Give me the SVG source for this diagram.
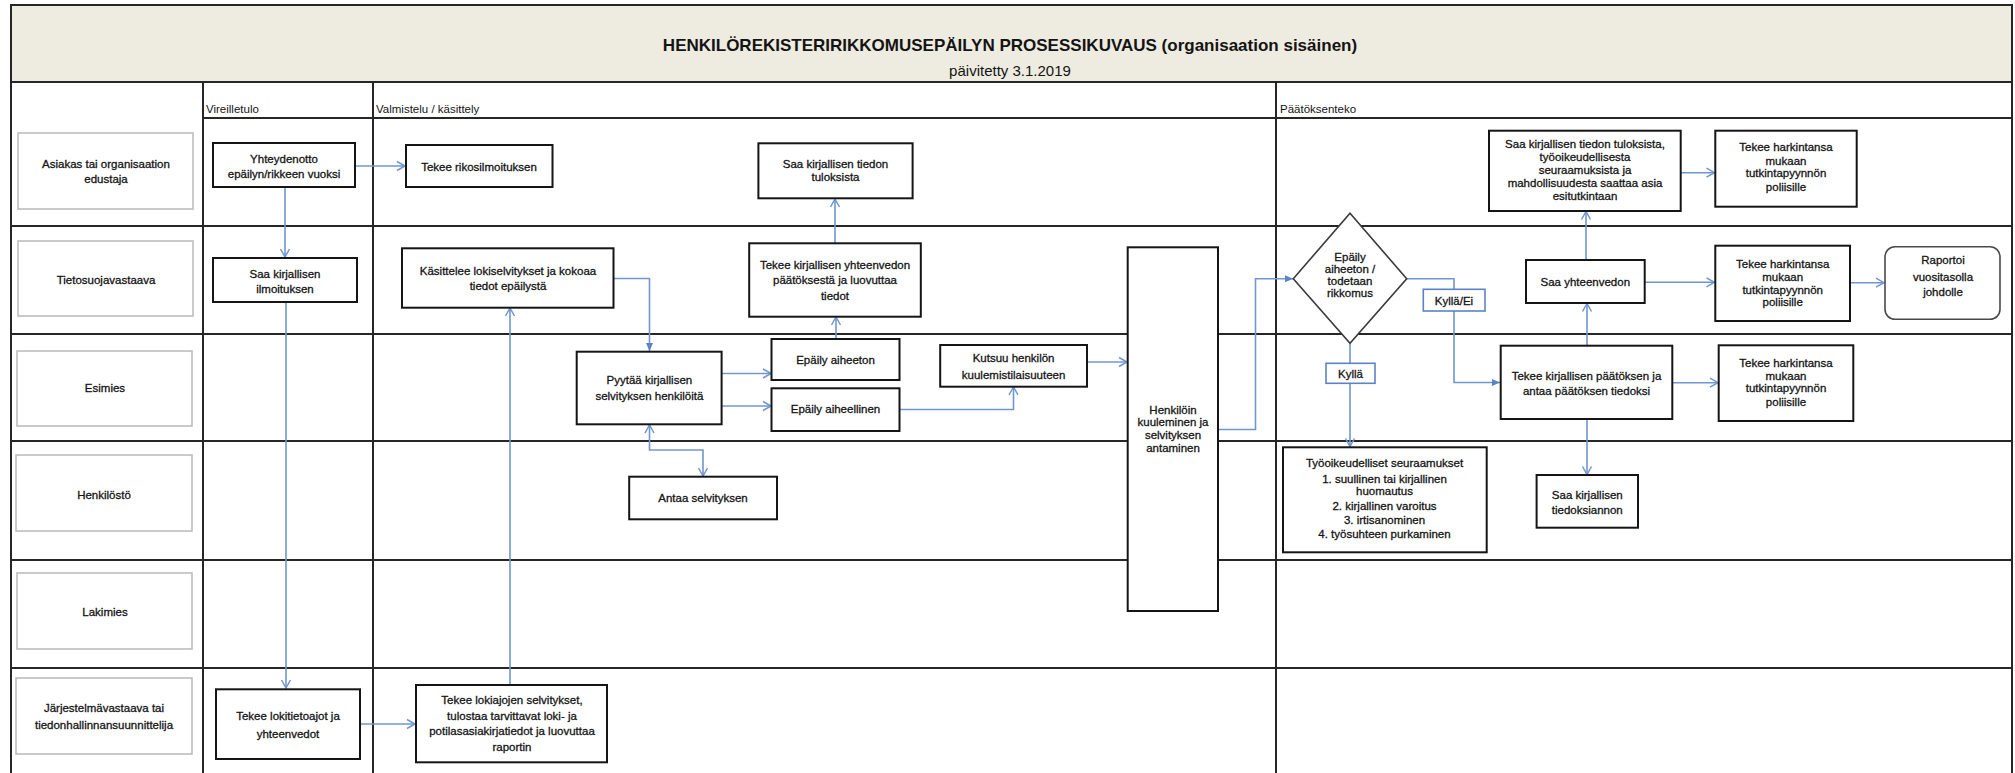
<svg xmlns="http://www.w3.org/2000/svg" width="2015" height="773" viewBox="0 0 2015 773">
<style>
.grid{stroke:#262626;stroke-width:2;fill:none}
.lbl{fill:#fff;stroke:#bdbdbd;stroke-width:1.6}
.box{fill:#fff;stroke:#151515;stroke-width:2}
.dia{fill:#fff;stroke:#3a3a3a;stroke-width:1.6}
.tag{fill:#fff;stroke:#5b84c4;stroke-width:1.6}
.conn{fill:none;stroke:#7096cf;stroke-width:1.6}
.t{font-family:"Liberation Sans",Arial,sans-serif;font-size:11.5px;fill:#141414;stroke:#141414;stroke-width:0.3;text-anchor:middle}
.h{font-family:"Liberation Sans",Arial,sans-serif;font-size:11.5px;fill:#141414}
</style>
<defs>
<marker id="open" markerUnits="userSpaceOnUse" markerWidth="12" markerHeight="12" refX="9" refY="5" orient="auto-start-reverse" viewBox="0 0 12 10">
<path d="M1,0.5 L9,5 L1,9.5" fill="none" stroke="#7096cf" stroke-width="1.5"/>
</marker>
<marker id="fill" markerUnits="userSpaceOnUse" markerWidth="10" markerHeight="10" refX="8" refY="4" orient="auto" viewBox="0 0 10 8">
<path d="M0,0.5 L8,4 L0,7.5 Z" fill="#5b84c4"/>
</marker>
</defs>
<rect x="0" y="0" width="2015" height="773" fill="#fff"/>

<g id="frame">
<rect x="11" y="5" width="2001" height="77" fill="#EEEBE0" stroke="#262626" stroke-width="2"/>
<path class="grid" d="M11,5 V775 M2012,5 V775 M203,118 H2012 M11,226 H2012 M11,334 H2012 M11,441 H2012 M11,560 H2012 M11,668 H2012 M203,82 V775 M373,82 V775 M1276,82 V775"/>
</g>

<g id="title">
<text x="1010" y="51" font-family="Liberation Sans,Arial,sans-serif" font-size="17" font-weight="bold" fill="#141414" text-anchor="middle">HENKILÖREKISTERIRIKKOMUSEPÄILYN PROSESSIKUVAUS (organisaation sisäinen)</text>
<text x="1010" y="76" font-family="Liberation Sans,Arial,sans-serif" font-size="15" fill="#141414" text-anchor="middle">päivitetty 3.1.2019</text>
</g>

<g id="phases">
<text class="h" x="206" y="113">Vireilletulo</text>
<text class="h" x="376" y="113">Valmistelu / käsittely</text>
<text class="h" x="1280" y="113" font-size="11">Päätöksenteko</text>
</g>

<g id="lane-asiakas"><rect class="lbl" x="18" y="133" width="175" height="76"/><text class="t" x="106" y="167.5">Asiakas tai organisaation</text><text class="t" x="106" y="182.5">edustaja</text></g>
<g id="lane-tietosuoja"><rect class="lbl" x="18" y="241" width="175" height="75"/><text class="t" x="106" y="284">Tietosuojavastaava</text></g>
<g id="lane-esimies"><rect class="lbl" x="17" y="351" width="175" height="75"/><text class="t" x="105" y="392">Esimies</text></g>
<g id="lane-henkilosto"><rect class="lbl" x="16" y="455" width="176" height="76"/><text class="t" x="104" y="499">Henkilöstö</text></g>
<g id="lane-lakimies"><rect class="lbl" x="17" y="573" width="175" height="76"/><text class="t" x="105" y="616">Lakimies</text></g>
<g id="lane-jarjestelma"><rect class="lbl" x="16" y="678" width="176" height="76"/><text class="t" x="104" y="712">Järjestelmävastaava tai</text><text class="t" x="104" y="729">tiedonhallinnansuunnittelija</text></g>

<g id="connectors">
<path class="conn" d="M355,166 H405" marker-end="url(#open)"/>
<path class="conn" d="M285,187 V257" marker-end="url(#open)"/>
<path class="conn" d="M286,302 V688" marker-end="url(#open)"/>
<path class="conn" d="M360,724 H415" marker-end="url(#open)"/>
<path class="conn" d="M510,685 V308" marker-end="url(#open)"/>
<path class="conn" d="M613.5,278.5 H649.5 V351" marker-end="url(#fill)"/>
<path class="conn" d="M649.5,425 V450 H703 V476" marker-start="url(#open)" marker-end="url(#open)"/>
<path class="conn" d="M722,373.5 H771" marker-end="url(#open)"/>
<path class="conn" d="M722,406 H771" marker-end="url(#open)"/>
<path class="conn" d="M836,339 V317" marker-end="url(#open)"/>
<path class="conn" d="M835,243 V199" marker-end="url(#open)"/>
<path class="conn" d="M899.5,409.5 H1013.5 V387" marker-end="url(#open)"/>
<path class="conn" d="M1087,362 H1127" marker-end="url(#open)"/>
<path class="conn" d="M1218,429.5 H1255.5 V278.7 H1293" marker-end="url(#fill)"/>
<path class="conn" d="M1406.7,278.7 H1454 V382.5 H1500" marker-end="url(#fill)"/>
<path class="conn" d="M1350,343.3 V446.5" marker-end="url(#open)"/>
<path class="conn" d="M1587,345.7 V303.5" marker-end="url(#open)"/>
<path class="conn" d="M1586,260 V211.5" marker-end="url(#open)"/>
<path class="conn" d="M1680.7,172.7 H1714.5" marker-end="url(#open)"/>
<path class="conn" d="M1644.7,282.3 H1714.5" marker-end="url(#open)"/>
<path class="conn" d="M1850,282.7 H1884" marker-end="url(#open)"/>
<path class="conn" d="M1672.3,382.7 H1718" marker-end="url(#open)"/>
<path class="conn" d="M1587,419 V474.5" marker-end="url(#open)"/>
</g>

<g id="n-yhteydenotto"><rect class="box" x="213" y="143" width="142" height="44"/><text class="t" x="284" y="163">Yhteydenotto</text><text class="t" x="284" y="177.5">epäilyn/rikkeen vuoksi</text></g>
<g id="n-rikosilmoitus"><rect class="box" x="406" y="145" width="146.5" height="42"/><text class="t" x="479" y="170.5">Tekee rikosilmoituksen</text></g>
<g id="n-saa-ilmoituksen"><rect class="box" x="213" y="258" width="144" height="44"/><text class="t" x="285" y="277.5">Saa kirjallisen</text><text class="t" x="285" y="292.5">ilmoituksen</text></g>
<g id="n-kasittelee"><rect class="box" x="402" y="248.3" width="211.5" height="59.4"/><text class="t" x="508" y="275">Käsittelee lokiselvitykset ja kokoaa</text><text class="t" x="508" y="290">tiedot epäilystä</text></g>
<g id="n-saa-tiedon-mid"><rect class="box" x="758.4" y="143.3" width="154.2" height="55"/><text class="t" x="835.5" y="167.5">Saa kirjallisen tiedon</text><text class="t" x="835.5" y="181">tuloksista</text></g>
<g id="n-yhteenveto"><rect class="box" x="749.2" y="243.3" width="171.6" height="73.4"/><text class="t" x="835" y="269">Tekee kirjallisen yhteenvedon</text><text class="t" x="835" y="284">päätöksestä ja luovuttaa</text><text class="t" x="835" y="299.5">tiedot</text></g>
<g id="n-pyytaa"><rect class="box" x="576.7" y="351.7" width="144.9" height="72.6"/><text class="t" x="649.4" y="384">Pyytää kirjallisen</text><text class="t" x="649.4" y="400">selvityksen henkilöitä</text></g>
<g id="n-aiheeton"><rect class="box" x="771.5" y="339" width="128" height="41"/><text class="t" x="835.5" y="364">Epäily aiheeton</text></g>
<g id="n-aiheellinen"><rect class="box" x="771.5" y="388.3" width="128" height="42.7"/><text class="t" x="835.5" y="413.3">Epäily aiheellinen</text></g>
<g id="n-kutsuu"><rect class="box" x="940.2" y="345" width="146.8" height="41.7"/><text class="t" x="1013.6" y="362">Kutsuu henkilön</text><text class="t" x="1013.6" y="379">kuulemistilaisuuteen</text></g>
<g id="n-antaa"><rect class="box" x="629.2" y="476.7" width="147.8" height="42.6"/><text class="t" x="703" y="502.3">Antaa selvityksen</text></g>
<g id="n-henkiloin"><rect class="box" x="1127.7" y="247.3" width="90.3" height="363.7"/><text class="t" x="1173" y="414">Henkilöin</text><text class="t" x="1173" y="426">kuuleminen ja</text><text class="t" x="1173" y="439">selvityksen</text><text class="t" x="1173" y="451.5">antaminen</text></g>
<g id="n-lokitietoajot"><rect class="box" x="216" y="689.3" width="144" height="69.7"/><text class="t" x="288" y="720">Tekee lokitietoajot ja</text><text class="t" x="288" y="737.5">yhteenvedot</text></g>
<g id="n-lokiajojen"><rect class="box" x="416" y="685" width="191" height="77.3"/><text class="t" x="512" y="704">Tekee lokiajojen selvitykset,</text><text class="t" x="512" y="719.5">tulostaa tarvittavat loki- ja</text><text class="t" x="512" y="735">potilasasiakirjatiedot ja luovuttaa</text><text class="t" x="512" y="750.5">raportin</text></g>
<g id="n-paatos-diamond"><polygon class="dia" points="1293.3,278.7 1350,213.3 1406.7,278.7 1350,343.3"/><text class="t" x="1350" y="261.3">Epäily</text><text class="t" x="1350" y="273">aiheeton /</text><text class="t" x="1350" y="284.5">todetaan</text><text class="t" x="1350" y="296.7">rikkomus</text></g>
<g id="tag-kylla-ei"><rect class="tag" x="1423.3" y="289.3" width="61.7" height="21.7"/><text class="t" x="1454" y="304.5">Kyllä/Ei</text></g>
<g id="tag-kylla"><rect class="tag" x="1326" y="363.3" width="49" height="20"/><text class="t" x="1350.5" y="377.5">Kyllä</text></g>
<g id="n-tyooikeus"><rect class="box" x="1283" y="447.3" width="203.7" height="105"/><text class="t" x="1384.5" y="467.3">Työoikeudelliset seuraamukset</text><text class="t" x="1384.5" y="482.7">1. suullinen tai kirjallinen</text><text class="t" x="1384.5" y="495">huomautus</text><text class="t" x="1384.5" y="510">2. kirjallinen varoitus</text><text class="t" x="1384.5" y="524.3">3. irtisanominen</text><text class="t" x="1384.5" y="538.3">4. työsuhteen purkaminen</text></g>
<g id="n-tiedoksianto"><rect class="box" x="1536.6" y="475" width="101.4" height="52.7"/><text class="t" x="1587.3" y="499.3">Saa kirjallisen</text><text class="t" x="1587.3" y="513.7">tiedoksiannon</text></g>
<g id="n-saa-tiedon-right"><rect class="box" x="1489" y="130.7" width="191.7" height="80.3"/><text class="t" x="1585" y="148.3">Saa kirjallisen tiedon tuloksista,</text><text class="t" x="1585" y="161">työoikeudellisesta</text><text class="t" x="1585" y="174">seuraamuksista ja</text><text class="t" x="1585" y="187.3">mahdollisuudesta saattaa asia</text><text class="t" x="1585" y="200.3">esitutkintaan</text></g>
<g id="n-harkinta-1"><rect class="box" x="1715.3" y="130.7" width="141.4" height="76"/><text class="t" x="1786" y="151.3">Tekee harkintansa</text><text class="t" x="1786" y="164.7">mukaan</text><text class="t" x="1786" y="177.3">tutkintapyynnön</text><text class="t" x="1786" y="190.7">poliisille</text></g>
<g id="n-saa-yhteenvedon"><rect class="box" x="1526" y="260" width="118.7" height="43"/><text class="t" x="1585.3" y="285.7">Saa yhteenvedon</text></g>
<g id="n-harkinta-2"><rect class="box" x="1715.3" y="245.7" width="134.7" height="75.3"/><text class="t" x="1782.7" y="268">Tekee harkintansa</text><text class="t" x="1782.7" y="280.7">mukaan</text><text class="t" x="1782.7" y="294">tutkintapyynnön</text><text class="t" x="1782.7" y="305.7">poliisille</text></g>
<g id="n-raportoi"><rect x="1885" y="246.7" width="115" height="72.6" rx="10" fill="#fff" stroke="#4a4a4a" stroke-width="1.6"/><text class="t" x="1943" y="264">Raportoi</text><text class="t" x="1943" y="280.7">vuositasolla</text><text class="t" x="1943" y="295.7">johdolle</text></g>
<g id="n-paatos"><rect class="box" x="1500.7" y="345.7" width="171.6" height="73.3"/><text class="t" x="1586.5" y="379.7">Tekee kirjallisen päätöksen ja</text><text class="t" x="1586.5" y="394.7">antaa päätöksen tiedoksi</text></g>
<g id="n-harkinta-3"><rect class="box" x="1718.7" y="345.3" width="134.6" height="75.7"/><text class="t" x="1786" y="367.3">Tekee harkintansa</text><text class="t" x="1786" y="379.7">mukaan</text><text class="t" x="1786" y="392.3">tutkintapyynnön</text><text class="t" x="1786" y="405.7">poliisille</text></g>
</svg>
